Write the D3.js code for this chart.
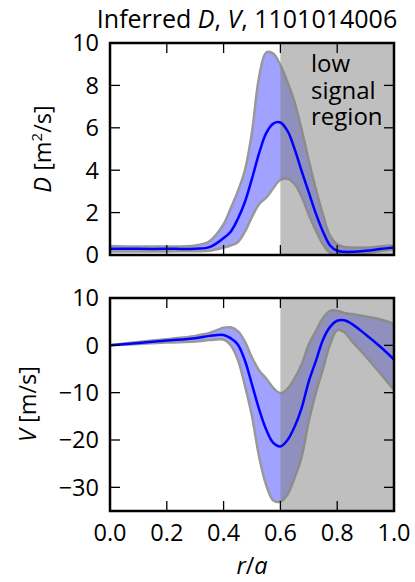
<!DOCTYPE html>
<html><head><meta charset="utf-8">
<script src="https://cdn.jsdelivr.net/npm/d3@7"></script>
<style>
html,body{margin:0;padding:0;background:#fff;}
svg text{font-family:"Open Sans",sans-serif;fill:#000;}
</style></head>
<body><svg id="c" width="415" height="582"></svg>
<script>
const r = [0, 0.1, 0.2, 0.3, 0.35, 0.4, 0.425, 0.45, 0.475, 0.5, 0.525, 0.55, 0.575, 0.6, 0.625, 0.65, 0.675, 0.7, 0.725, 0.75, 0.775, 0.8, 0.825, 0.85, 0.9, 0.95, 1.0];
const D_mean = [0.30, 0.29, 0.29, 0.30, 0.37, 0.8, 1.1, 1.7, 2.5, 3.6, 4.8, 5.75, 6.2, 6.25, 5.85, 5.0, 3.95, 2.95, 1.95, 1.1, 0.45, 0.2, 0.15, 0.15, 0.2, 0.28, 0.36];
const D_hi = [0.42, 0.40, 0.40, 0.45, 0.65, 1.45, 2.2, 3.0, 4.0, 5.8, 8.4, 9.55, 9.5, 8.95, 8.15, 7.2, 5.9, 4.45, 3.1, 1.9, 0.9, 0.5, 0.38, 0.35, 0.35, 0.4, 0.45];
const D_lo = [0.17, 0.17, 0.17, 0.18, 0.2, 0.35, 0.45, 0.6, 1.1, 1.8, 2.4, 2.7, 3.15, 3.55, 3.6, 3.35, 2.75, 1.9, 1.15, 0.5, 0.1, 0.03, 0.03, 0.05, 0.1, 0.18, 0.28];
const V_mean = [0, 0.5, 1.0, 1.5, 2.0, 2.2, 1.5, 0.2, -3.2, -8.3, -13.5, -17.8, -20.6, -21.35, -20.0, -17.2, -13.2, -7.6, -3.3, 1.2, 3.9, 5.2, 5.3, 4.6, 2.3, -0.2, -3.0];
const V_hi = [0, 0.7, 1.3, 2.0, 2.6, 3.7, 3.8, 3.0, 0.8, -2.6, -5.3, -7.0, -9.0, -10.1, -9.2, -7.0, -4.0, 0.2, 3.0, 5.8, 7.3, 7.3, 6.85, 6.6, 6.1, 5.5, 4.5];
const V_lo = [0, 0.3, 0.6, 0.8, 1.1, 1.2, 0.0, -3.0, -8.5, -15.0, -23.5, -29.5, -32.8, -33.0, -31.5, -28.0, -23.5, -16.0, -10.0, -5.0, 0.2, 3.2, 2.8, 1.0, -2.3, -5.8, -9.4];
const xTicks = [0.0, 0.2, 0.4, 0.6, 0.8, 1.0];
const dTicks = [0, 2, 4, 6, 8, 10];
const vTicks = [-30, -20, -10, 0, 10];
const lowSignalStart = 0.6;
const lowSignalLines = ["low", "signal", "region"];

const svg = d3.select("#c");
const X0 = 110, X1 = 394;
const x = d3.scaleLinear().domain([0, 1]).range([X0, X1]);
const panels = [
  {mean: D_mean, lo: D_lo, hi: D_hi, domain: [0, 10], top: 43, bottom: 255, ticks: dTicks, xlabels: false, id: "d"},
  {mean: V_mean, lo: V_lo, hi: V_hi, domain: [-35, 10], top: 298, bottom: 511, ticks: vTicks, xlabels: true, id: "v"}
];
const fmtY = d => d < 0 ? "\u2212" + Math.abs(d) : String(d);
const curve = d3.curveCatmullRom.alpha(0.5);

panels.forEach(p => {
  const y = d3.scaleLinear().domain(p.domain).range([p.bottom, p.top]);
  const g = svg.append("g");
  const cid = "clip-" + p.id;
  svg.append("clipPath").attr("id", cid).append("rect")
    .attr("x", X0).attr("y", p.top).attr("width", X1 - X0).attr("height", p.bottom - p.top);
  const gc = g.append("g").attr("clip-path", `url(#${cid})`);
  const pts = r.map((rv, i) => ({r: rv, m: p.mean[i], lo: p.lo[i], hi: p.hi[i]}));
  const area = d3.area().x(d => x(d.r)).y0(d => y(d.lo)).y1(d => y(d.hi)).curve(curve);
  gc.append("path").datum(pts).attr("d", area)
    .attr("fill", "#0000ff").attr("fill-opacity", 0.37)
    .attr("stroke", "#999999").attr("stroke-width", 2.5).attr("stroke-linejoin", "round");
  gc.append("rect").attr("x", x(lowSignalStart)).attr("y", p.top)
    .attr("width", x(1) - x(lowSignalStart)).attr("height", p.bottom - p.top)
    .attr("fill", "#808080").attr("fill-opacity", 0.5);
  const line = d3.line().x(d => x(d.r)).y(d => y(d.m)).curve(curve);
  gc.append("path").datum(pts).attr("d", line)
    .attr("fill", "none").attr("stroke", "#0000ff").attr("stroke-width", 2.5);

  const TL = 10;
  xTicks.forEach(t => {
    g.append("line").attr("x1", x(t)).attr("x2", x(t)).attr("y1", p.bottom).attr("y2", p.bottom - TL)
      .attr("stroke", "#000").attr("stroke-width", 1.3);
    g.append("line").attr("x1", x(t)).attr("x2", x(t)).attr("y1", p.top).attr("y2", p.top + TL)
      .attr("stroke", "#000").attr("stroke-width", 1.3);
    if (p.xlabels) {
      g.append("text").attr("x", x(t)).attr("y", p.bottom + 30).attr("text-anchor", "middle")
        .attr("font-size", 23.5).text(t.toFixed(1));
    }
  });
  p.ticks.forEach(t => {
    g.append("line").attr("x1", X0).attr("x2", X0 + TL).attr("y1", y(t)).attr("y2", y(t))
      .attr("stroke", "#000").attr("stroke-width", 1.3);
    g.append("line").attr("x1", X1).attr("x2", X1 - TL).attr("y1", y(t)).attr("y2", y(t))
      .attr("stroke", "#000").attr("stroke-width", 1.3);
    g.append("text").attr("x", X0 - 11).attr("y", y(t)).attr("dy", "0.36em").attr("text-anchor", "end")
      .attr("font-size", 23.5).text(fmtY(t));
  });
  g.append("rect").attr("x", X0).attr("y", p.top).attr("width", X1 - X0).attr("height", p.bottom - p.top)
    .attr("fill", "none").attr("stroke", "#000").attr("stroke-width", 2.5);
});

// low signal text
const lt = svg.append("text").attr("x", 311).attr("y", 72).attr("font-size", 24);
lowSignalLines.forEach((s, i) => {
  lt.append("tspan").attr("x", 311).attr("y", 72 + i * 26.7).text(s);
});

// title
const tt = svg.append("text").attr("x", 247).attr("y", 28).attr("text-anchor", "middle").attr("font-size", 25);
tt.append("tspan").text("Inferred ");
tt.append("tspan").attr("font-style", "italic").text("D");
tt.append("tspan").text(", ");
tt.append("tspan").attr("font-style", "italic").text("V");
tt.append("tspan").text(", 1101014006");

// y labels
const yl1 = svg.append("text").attr("transform", "translate(51,149) rotate(-90)").attr("text-anchor", "middle").attr("font-size", 23.5);
yl1.append("tspan").attr("font-style", "italic").text("D");
yl1.append("tspan").text(" [m");
yl1.append("tspan").attr("font-size", 15).attr("dy", -9).text("2");
yl1.append("tspan").attr("dy", 9).text("/s]");

const yl2 = svg.append("text").attr("transform", "translate(36,404) rotate(-90)").attr("text-anchor", "middle").attr("font-size", 23.5);
yl2.append("tspan").attr("font-style", "italic").text("V");
yl2.append("tspan").text(" [m/s]");

// x label
const xl = svg.append("text").attr("x", 252).attr("y", 574).attr("text-anchor", "middle").attr("font-size", 23.5);
xl.append("tspan").attr("font-style", "italic").text("r");
xl.append("tspan").text("/");
xl.append("tspan").attr("font-style", "italic").text("a");
</script></body></html>
